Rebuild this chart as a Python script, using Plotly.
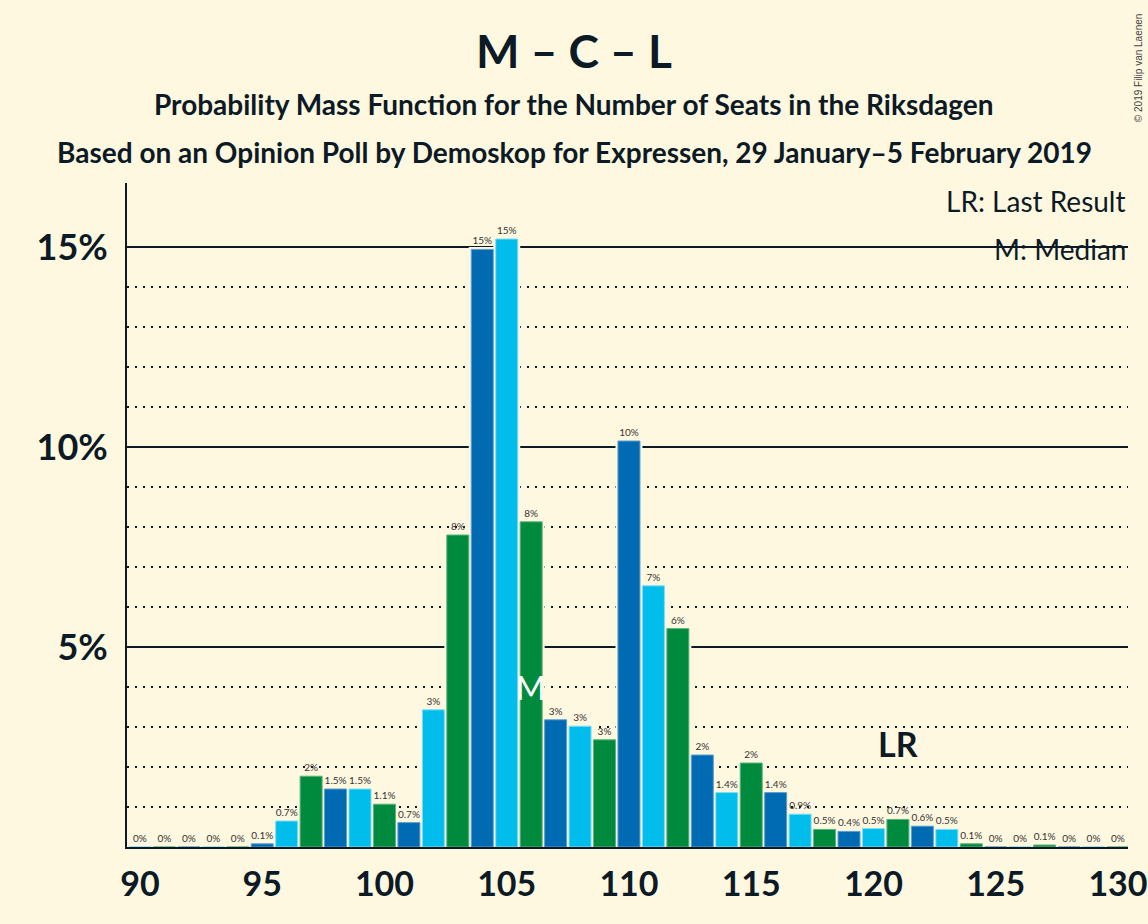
'''
Probability mass function of the number of seats for M – C – L.
'''

import plotly.graph_objects as go

SEATS = list(range(90, 131))
PROBABILITIES = [
    0, 0, 0, 0, 0,
    0.08, 0.65, 1.77, 1.45, 1.45, 1.07, 0.61, 3.43, 7.8, 14.94,
    15.2, 8.13, 3.18, 3.02, 2.68, 10.15, 6.53, 5.46, 2.3, 1.36,
    2.1, 1.36, 0.82, 0.44, 0.39, 0.46, 0.69, 0.52, 0.44, 0.08,
    0, 0, 0.05, 0, 0, 0
]
BAR_LABELS = [
    '0%', '0%', '0%', '0%', '0%',
    '0.1%', '0.7%', '2%', '1.5%', '1.5%', '1.1%', '0.7%', '3%', '8%', '15%',
    '15%', '8%', '3%', '3%', '3%', '10%', '7%', '6%', '2%', '1.4%',
    '2%', '1.4%', '0.9%', '0.5%', '0.4%', '0.5%', '0.7%', '0.6%', '0.5%', '0.1%',
    '0%', '0%', '0.1%', '0%', '0%', '0%'
]
X_TICKS = [90, 95, 100, 105, 110, 115, 120, 125, 130]
Y_TICKS = [5, 10, 15]
Y_TICK_LABELS = ['5%', '10%', '15%']
MEDIAN = 106
LAST_RESULT = 121

TITLE = 'M – C – L'
SUBTITLE = 'Probability Mass Function for the Number of Seats in the Riksdagen'
SOURCE = 'Based on an Opinion Poll by Demoskop for Expressen, 29 January–5 February 2019'
COPYRIGHT = '© 2019 Filip van Laenen'

BACKGROUND = '#fff8e0'
INK = '#0c1a26'
# dark blue, light blue, green cycle by seat number
PALETTE = {2: '#006ab2', 0: '#00bdec', 1: '#008a3e'}
OUTLINE = {2: '#5b9fd0', 0: '#7fdcf5', 1: '#5bb37f'}

bar_colors = [PALETTE[s % 3] for s in SEATS]
bar_outlines = [OUTLINE[s % 3] for s in SEATS]

fig = go.Figure()

# background-coloured masks so gridlines stop short of the bars
fig.add_trace(go.Bar(
    x = SEATS,
    y = PROBABILITIES,
    width = 0.9,
    marker = dict(color = BACKGROUND, line = dict(color = BACKGROUND, width = 5)),
    hoverinfo = 'skip'
))
fig.add_trace(go.Bar(
    x = SEATS,
    y = PROBABILITIES,
    width = 0.9,
    marker = dict(color = bar_colors, line = dict(color = bar_outlines, width = 1)),
    text = BAR_LABELS,
    textposition = 'outside',
    textfont = dict(family = 'Lato', size = 10, color = '#333333'),
    constraintext = 'none',
    cliponaxis = False
))

def _note(text, x, y, size, xref = 'paper', yref = 'paper', xanchor = 'center', **kwargs):
    '''
    Adds a plain text annotation, centred vertically on y.
    '''
    fig.add_annotation(
        x = x, y = y, xref = xref, yref = yref,
        xanchor = xanchor, yanchor = 'middle',
        text = text, showarrow = False,
        font = dict(family = kwargs.pop('family', 'Lato'), size = size, color = kwargs.pop('color', INK)),
        **kwargs
    )

_note('M', MEDIAN, 4, 32, xref = 'x', yref = 'y', color = 'white')
_note('<b>LR</b>', LAST_RESULT, 2.6, 34, xref = 'x', yref = 'y')
_note('LR: Last Result', 1, 0.973, 28, xanchor = 'right')
_note('M: Median', 1, 0.9, 28, xanchor = 'right')
_note(f'<b>{TITLE}</b>', 0.447, 1.2, 46)
_note(f'<b>{SUBTITLE}</b>', 0.447, 1.119, 28)
_note(f'<b>{SOURCE}</b>', 0.447, 1.047, 28)
_note(COPYRIGHT, 1.01, 1.173, 10, family = 'Liberation Sans', color = '#444444', textangle = -90)

fig.update_xaxes(
    range = [89.47, 130.41],
    tickvals = X_TICKS,
    ticktext = [f'<b>{t}</b>' for t in X_TICKS],
    tickfont = dict(family = 'Lato', size = 34, color = INK),
    ticklabelstandoff = 6,
    automargin = False,
    showgrid = False,
    zeroline = False,
    showline = True,
    linecolor = INK,
    linewidth = 2
)
fig.update_yaxes(
    range = [0, 16.6],
    tickvals = Y_TICKS,
    ticktext = [f'<b>{t}</b>' for t in Y_TICK_LABELS],
    tickfont = dict(family = 'Lato', size = 36, color = INK),
    ticklabelstandoff = 10,
    automargin = False,
    showgrid = True,
    gridcolor = INK,
    gridwidth = 2,
    zeroline = False,
    showline = True,
    linecolor = INK,
    linewidth = 2,
    minor = dict(
        tickvals = [v for v in range(1, 15) if v % 5],
        showgrid = True,
        gridcolor = INK,
        gridwidth = 2,
        griddash = '2px,6px'
    )
)
fig.update_layout(
    width = 1148,
    height = 924,
    margin = dict(l = 127, r = 20, t = 183, b = 77),
    paper_bgcolor = BACKGROUND,
    plot_bgcolor = BACKGROUND,
    barmode = 'overlay',
    showlegend = False,
    font = dict(family = 'Lato', color = INK)
)

fig.write_html(
    'out.html',
    config = {'displayModeBar': False},
    post_script = "document.body.style.margin = '0';"
)
